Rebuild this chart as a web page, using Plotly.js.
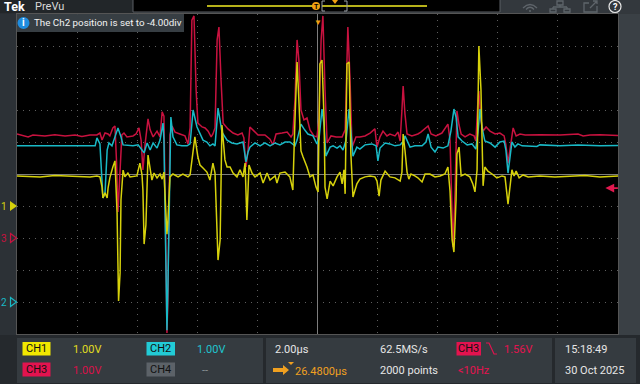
<!DOCTYPE html>
<html><head><meta charset="utf-8">
<script src="https://cdn.plot.ly/plotly-3.0.1.min.js"></script>
<style>html,body{margin:0;padding:0;background:#2b3034;}#plot{width:640px;height:384px;}</style>
</head><body><div id="plot"></div>
<script>
// ---- Channel settings ----
const ch1_scale = 1.0, ch1_pos = -1;   // V/div, divisions
const ch2_scale = 1.0, ch2_pos = -4;
const ch3_scale = 1.0, ch3_pos = -2;
const trig_level = 1.56;               // CH3, V

// ---- CH1 (yellow) time (us, relative to trigger) and volts ----
const ch1_t = [-10.0,-9.23,-8.74,-8.07,-7.57,-7.34,-7.24,-7.17,-7.14,-7.07,-7.00,-6.97,-6.91,-6.81,-6.74,-6.67,-6.62,-6.57,-6.54,-6.47,-6.41,-6.31,-6.24,-6.01,-5.91,-5.84,-5.81,-5.77,-5.71,-5.64,-5.57,-5.51,-5.44,-5.34,-5.24,-5.17,-5.11,-5.07,-5.01,-4.98,-4.91,-4.81,-4.64,-4.48,-4.31,-4.24,-4.14,-4.08,-3.98,-3.91,-3.81,-3.68,-3.58,-3.48,-3.41,-3.31,-3.24,-3.18,-3.08,-3.01,-2.91,-2.81,-2.68,-2.58,-2.48,-2.41,-2.35,-2.28,-2.18,-2.08,-1.91,-1.81,-1.68,-1.58,-1.41,-1.35,-1.25,-1.08,-0.92,-0.82,-0.75,-0.68,-0.62,-0.55,-0.48,-0.35,-0.25,-0.15,-0.05,0.02,0.08,0.15,0.22,0.25,0.32,0.42,0.52,0.65,0.75,0.82,0.88,0.92,0.98,1.05,1.11,1.18,1.31,1.41,1.58,1.75,1.91,1.98,2.05,2.11,2.25,2.41,2.58,2.75,2.81,2.85,2.91,2.98,3.04,3.11,3.24,3.34,3.48,3.58,3.74,3.91,4.08,4.24,4.34,4.41,4.48,4.54,4.61,4.64,4.71,4.78,4.91,5.07,5.17,5.24,5.31,5.37,5.44,5.51,5.57,5.67,5.81,5.97,6.14,6.24,6.34,6.41,6.47,6.54,6.61,6.71,6.84,7.01,7.40,7.90,8.40,8.90,9.40,10.0];
const ch1_v = [0.94,0.91,0.95,0.94,0.91,0.94,0.91,0.59,0.25,0.41,0.25,0.56,0.88,1.22,1.41,-0.22,-2.97,-2.09,0.19,1.12,0.91,1.03,0.91,0.94,1.34,0.97,0.50,-1.19,-0.59,1.59,1.22,0.81,1.03,0.88,1.00,0.84,1.06,0.28,-0.88,-0.50,0.91,1.00,0.91,1.00,0.91,0.97,1.75,2.16,1.53,1.28,1.19,1.06,0.81,1.34,1.03,-1.69,-1.06,2.53,1.44,1.22,1.22,1.03,0.91,1.13,0.91,1.34,-0.44,1.28,1.03,0.91,1.03,0.72,1.03,0.81,0.94,0.72,1.03,1.06,0.91,0.50,2.69,4.50,3.31,1.72,1.53,1.22,0.91,0.97,0.59,0.44,4.44,4.56,2.69,0.59,0.22,0.78,0.63,0.91,1.06,0.69,1.13,0.38,4.44,4.50,1.63,0.28,0.69,0.84,0.91,0.94,0.91,0.78,0.31,0.81,1.09,0.91,0.88,0.78,1.06,2.25,1.75,1.06,0.84,1.00,0.94,0.88,0.75,1.00,1.00,0.91,0.94,1.00,1.22,0.47,-1.06,-1.44,0.19,1.63,1.84,0.94,1.00,0.91,0.69,0.44,1.13,5.00,3.63,0.63,1.22,1.09,1.00,0.88,0.94,0.91,0.06,0.56,1.13,0.94,1.09,0.88,0.97,0.91,0.94,0.91,0.94,0.95,0.91,0.94];

// ---- CH2 (cyan) ----
const ch2_t = [-10.0,-8.90,-7.90,-7.40,-7.34,-7.24,-7.17,-7.14,-7.07,-7.00,-6.94,-6.84,-6.74,-6.64,-6.54,-6.47,-6.14,-5.97,-5.84,-5.77,-5.67,-5.57,-5.47,-5.34,-5.24,-5.14,-5.11,-5.04,-5.01,-4.98,-4.91,-4.88,-4.81,-4.68,-4.51,-4.34,-4.24,-4.14,-4.01,-3.91,-3.81,-3.68,-3.58,-3.48,-3.41,-3.31,-3.24,-3.18,-3.01,-2.85,-2.68,-2.48,-2.38,-2.31,-2.25,-2.08,-1.91,-1.75,-1.58,-1.41,-1.25,-1.08,-0.92,-0.75,-0.68,-0.55,-0.45,-0.32,-0.15,-0.02,0.05,0.15,0.22,0.28,0.42,0.52,0.65,0.75,0.85,0.95,1.05,1.11,1.18,1.31,1.41,1.58,1.81,1.95,2.01,2.08,2.25,2.41,2.58,2.75,2.85,2.91,2.98,3.08,3.24,3.48,3.61,3.68,3.78,3.91,4.01,4.18,4.34,4.44,4.54,4.61,4.68,4.81,4.98,5.14,5.27,5.34,5.41,5.47,5.57,5.74,5.91,6.07,6.21,6.27,6.34,6.41,6.47,6.57,6.67,6.81,7.30,7.40,8.07,8.67,9.40,10.0];
const ch2_v = [4.88,4.89,4.88,4.88,5.13,4.94,3.81,3.25,3.41,4.75,4.97,4.88,5.16,5.44,5.16,4.91,4.88,4.91,4.75,4.66,4.97,4.75,4.97,4.81,5.06,5.59,5.06,1.31,-0.88,0.38,4.75,5.78,5.16,4.91,4.88,4.88,4.94,6.00,5.47,5.25,5.06,5.00,4.88,4.94,4.88,6.06,5.63,5.31,5.06,4.97,4.94,5.00,4.38,4.69,4.84,4.97,4.88,4.97,4.88,4.97,4.91,5.00,5.00,4.88,5.06,5.56,5.41,5.25,5.19,4.94,5.09,6.03,5.53,4.56,4.84,4.88,4.81,4.88,4.75,5.06,6.03,5.38,4.56,4.84,4.78,4.91,4.94,4.88,4.41,4.81,4.97,4.94,4.88,4.91,5.00,5.19,5.03,4.84,4.88,4.88,5.00,5.25,4.84,4.69,4.84,4.81,4.88,5.34,6.03,5.78,5.16,5.03,4.91,4.94,4.78,5.31,6.03,5.47,5.03,4.97,4.84,5.00,5.03,4.75,4.03,4.53,5.00,4.84,4.94,4.88,4.86,4.91,4.88,4.91,4.88,4.89];

// ---- CH3 (red) ----
const ch3_t = [-10.0,-9.63,-9.47,-9.07,-8.74,-8.40,-8.07,-7.84,-7.57,-7.34,-7.24,-7.17,-7.07,-6.97,-6.91,-6.81,-6.74,-6.69,-6.64,-6.57,-6.51,-6.44,-6.34,-6.14,-6.04,-5.94,-5.87,-5.81,-5.74,-5.64,-5.57,-5.47,-5.34,-5.24,-5.17,-5.11,-5.04,-5.01,-4.98,-4.91,-4.84,-4.74,-4.58,-4.41,-4.31,-4.24,-4.18,-4.11,-4.04,-3.98,-3.84,-3.74,-3.64,-3.54,-3.48,-3.41,-3.34,-3.28,-3.21,-3.14,-2.98,-2.81,-2.65,-2.51,-2.45,-2.38,-2.31,-2.25,-2.11,-1.98,-1.75,-1.58,-1.48,-1.38,-1.18,-1.01,-0.88,-0.82,-0.75,-0.68,-0.62,-0.55,-0.45,-0.35,-0.25,-0.12,-0.02,0.05,0.12,0.18,0.25,0.32,0.45,0.62,0.82,0.92,1.01,1.08,1.15,1.28,1.41,1.58,1.75,1.91,1.98,2.08,2.18,2.31,2.41,2.58,2.68,2.75,2.81,2.85,2.91,2.98,3.14,3.34,3.44,3.68,3.78,3.94,4.14,4.34,4.41,4.48,4.51,4.58,4.64,4.71,4.78,4.91,5.07,5.21,5.27,5.34,5.37,5.44,5.51,5.61,5.74,5.91,6.07,6.21,6.27,6.34,6.41,6.51,6.61,6.74,6.91,7.40,8.07,8.67,8.84,9.07,9.40,10.0];
const ch3_v = [3.25,3.16,3.22,3.19,3.23,3.19,3.22,3.17,3.22,3.22,3.28,3.06,3.28,3.25,3.19,3.44,3.50,2.44,0.81,1.97,3.22,3.28,3.16,3.19,3.25,3.44,3.06,2.13,2.91,3.72,3.38,3.16,3.34,3.16,3.94,3.81,-0.69,-2.97,-1.94,3.22,3.50,3.31,3.25,3.19,2.94,3.44,6.81,6.94,4.63,3.59,3.47,3.44,3.34,3.16,3.25,3.44,6.19,6.59,4.94,3.59,3.41,3.28,3.22,3.28,3.13,2.22,2.75,3.47,3.34,3.22,3.22,3.09,2.91,3.25,3.28,3.31,3.16,3.25,4.31,6.19,5.56,4.00,3.69,3.75,3.38,3.19,3.16,3.69,6.19,6.94,4.63,2.97,3.19,3.16,3.16,3.38,6.59,5.03,2.84,3.16,3.16,3.19,3.28,3.41,2.84,3.16,3.34,3.19,3.25,3.19,3.31,3.03,4.00,4.75,3.88,3.25,3.19,3.25,3.31,3.50,3.25,3.19,3.28,3.56,3.06,0.25,-0.28,1.50,3.97,3.53,3.25,3.16,3.25,3.19,3.03,4.31,4.59,3.69,3.34,3.47,3.34,3.25,3.28,3.19,2.91,2.34,2.81,3.44,3.19,3.25,3.22,3.23,3.22,3.25,3.19,3.22,3.23,3.20];

// ---- readouts ----
const ch_labels = ["CH1","CH2","CH3","CH4"];
const ch_scales_txt = ["1.00V","1.00V","1.00V","--"];
const horiz_scale_txt = "2.00µs", delay_txt = "26.4800µs";
const sample_rate_txt = "62.5MS/s", record_txt = "2000 points";
const trig_txt = "1.56V", freq_txt = "<10Hz";
const time_txt = "15:18:49", date_txt = "30 Oct 2025";
const msg_txt = "The Ch2 position is set to -4.00div";

// ---- helpers (pixel -> paper) ----
const L=17,R=618,T=14,B=334;
const X = p => (p-L)/(R-L);
const Y = p => (B-p)/(B-T);
const P = (x,y) => X(x)+','+Y(y);

const toDiv = (v,s,pos) => v.map(a => a/s + pos);

const YEL='#d6d10b', CYN='#19b9c6', RED='#c8123f';
const traces = [
  {x:ch3_t, y:toDiv(ch3_v,ch3_scale,ch3_pos), mode:'lines', line:{color:RED,width:1.5}, hoverinfo:'skip'},
  {x:ch2_t, y:toDiv(ch2_v,ch2_scale,ch2_pos), mode:'lines', line:{color:CYN,width:1.5}, hoverinfo:'skip'},
  {x:ch1_t, y:toDiv(ch1_v,ch1_scale,ch1_pos), mode:'lines', line:{color:YEL,width:1.5}, hoverinfo:'skip'}
];

const shapes = [];
const ann = [];
function rectPx(x0,y0,x1,y1,fill,line,layer){shapes.push({type:'rect',xref:'paper',yref:'paper',x0:X(x0),x1:X(x1),y0:Y(y1),y1:Y(y0),fillcolor:fill,line:line||{width:0},layer:layer||'below'});}
function txt(x,y,s,color,size,anchor,bold,extra){ann.push(Object.assign({xref:'paper',yref:'paper',x:X(x),y:Y(y),text:bold?'<b>'+s+'</b>':s,showarrow:false,xanchor:anchor||'left',yanchor:'middle',font:{family:'Roboto, Noto Sans, sans-serif',size:size,color:color}},extra||{}));}
function pathPx(d,fill,line,layer){shapes.push({type:'path',xref:'paper',yref:'paper',path:d,fillcolor:fill,line:line||{width:0},layer:layer||'above'});}

// top bar
rectPx(0,0,640,13.5,'#222629');
rectPx(500,0,640,13.5,'#33383d');
rectPx(133,-1,500,12,'#000000',{color:'#5a5f64',width:1});
// right strip & left strip
rectPx(618.5,13.5,640,336,'#3a4045');
rectPx(0,13.5,16.5,336,'#2c3136');
// bottom panel
rectPx(0,335,640,384,'#25292d');
rectPx(17,338,263,383,'#353b40');
rectPx(266,338,552,383,'#353b40');
rectPx(555,338,636,383,'#353b40');

// overview waveform strip
pathPx('M'+P(207,6)+' L'+P(316,6),null,{color:'#b7b21a',width:2});
pathPx('M'+P(322,6)+' L'+P(427,6),null,{color:'#b7b21a',width:2});
pathPx('M'+P(325,1)+' L'+P(322,1)+' L'+P(322,11)+' L'+P(325,11)+' M'+P(344,1)+' L'+P(347,1)+' L'+P(347,11)+' L'+P(344,11),null,{color:'#9aa0a6',width:1});
shapes.push({type:'circle',xref:'paper',yref:'paper',x0:X(312),x1:X(320),y0:Y(10),y1:Y(2),fillcolor:'#f0a010',line:{width:0},layer:'above'});
txt(316,6.5,'T','#000',7,'center',true);
pathPx('M'+P(332,0)+' L'+P(338,0)+' L'+P(335,4)+' Z','#f0a010');
// Tek / PreVu
txt(2,7,'Tek','#ffffff',12.5,'left',true);
txt(33,7,'PreVu','#d8d8d8',11,'left');
// icons top right
const ic={color:'#5f656b',width:1.3};
pathPx('M'+P(523,8)+' Q'+P(530,1)+' '+P(537,8)+' M'+P(526,9.5)+' Q'+P(530,5)+' '+P(534,9.5)+' M'+P(529,11)+' L'+P(531,11),null,ic);
pathPx('M'+P(557,1)+' L'+P(563,1)+' L'+P(563,5)+' L'+P(557,5)+' Z M'+P(560,5)+' L'+P(560,7)+' M'+P(553,7)+' L'+P(567,7)+' M'+P(553,7)+' L'+P(553,9)+' M'+P(567,7)+' L'+P(567,9)+' M'+P(550,9)+' L'+P(556,9)+' L'+P(556,12)+' L'+P(550,12)+' Z M'+P(564,9)+' L'+P(570,9)+' L'+P(570,12)+' L'+P(564,12)+' Z',null,ic);
pathPx('M'+P(589,3)+' L'+P(584,3)+' L'+P(584,12)+' L'+P(597,12)+' L'+P(597,6)+' M'+P(590,8)+' L'+P(597,1)+' M'+P(593,1)+' L'+P(597,1)+' L'+P(597,4),null,ic);
shapes.push({type:'circle',xref:'paper',yref:'paper',x0:X(609),x1:X(621),y0:Y(12.5),y1:Y(0.5),line:{color:'#e8e8e8',width:1.2},layer:'above'});
txt(615,6.8,'?','#ffffff',9,'center',true);

// info tooltip
rectPx(17,14,184,32,'rgba(58,65,71,0.95)',{width:0},'above');
shapes.push({type:'circle',xref:'paper',yref:'paper',x0:X(17.5),x1:X(29.5),y0:Y(29),y1:Y(17),fillcolor:'#1f8de0',line:{width:0},layer:'above'});
txt(23.5,23,'i','#ffffff',10,'center',true);
txt(31.5,23,msg_txt,'#f2f2f2',9.8,'left');

// left channel markers
txt(9,206,'1',YEL,10,'right');
pathPx('M'+P(10,201)+' L'+P(17,206)+' L'+P(10,211)+' Z',YEL);
txt(9,238,'3',RED,10,'right');
pathPx('M'+P(10.5,233.5)+' L'+P(16.5,238)+' L'+P(10.5,242.5)+' Z',null,{color:RED,width:1.2});
txt(9,302,'2',CYN,10,'right');
pathPx('M'+P(10.5,297.5)+' L'+P(16.5,302)+' L'+P(10.5,306.5)+' Z',null,{color:CYN,width:1.2});

// trigger level arrow (right edge) and trigger position marker (top)
const trigDiv = trig_level/ch3_scale + ch3_pos;
ann.push({xref:'paper',yref:'y',x:0.979,y:trigDiv,ax:14,ay:0,showarrow:true,arrowhead:2,arrowsize:1.1,arrowwidth:1.6,arrowcolor:'#e0194f',text:''});
ann.push({xref:'x',yref:'paper',x:0,y:1.0,text:'▼',showarrow:false,yanchor:'top',xanchor:'center',font:{size:8,color:'#f0a010'}});

// bottom readouts
function badge(x0,y0,x1,y1,fill,label){rectPx(x0,y0,x1,y1,fill,{width:0},'below');txt((x0+x1)/2,(y0+y1)/2,label,'#111111',11,'center');}
badge(22.5,342,50.5,355.5,'#f2e800',ch_labels[0]);
badge(146.5,342,175,355.5,'#22cbd6',ch_labels[1]);
badge(22.5,362.5,50.5,376.5,'#e3134f',ch_labels[2]);
badge(146.5,362.5,175,376.5,'#5c6268',ch_labels[3]);
txt(71,349,ch_scales_txt[0],'#e0dc20',11);
txt(195,349,ch_scales_txt[1],'#20c4cf',11);
txt(71,370,ch_scales_txt[2],'#d8124a',11);
txt(200,370,ch_scales_txt[3],'#8a9096',11);
txt(273,349,horiz_scale_txt,'#e6e6e6',11);
pathPx('M'+P(273,368)+' L'+P(283,368)+' L'+P(283,365)+' L'+P(289,370)+' L'+P(283,375)+' L'+P(283,372)+' L'+P(273,372)+' Z','#f0a020');
pathPx('M'+P(288,362)+' L'+P(294,362)+' L'+P(291,365)+' Z','#f0a020');
txt(292.5,371,delay_txt,'#f0a020',11);
txt(378,349,sample_rate_txt,'#e6e6e6',11);
txt(378,370,record_txt,'#e6e6e6',11);
badge(456.5,342,481,355.5,'#e3134f',ch_labels[2]);
pathPx('M'+P(486,343)+' L'+P(489,343)+' L'+P(494,354)+' L'+P(497,354),null,{color:'#e3134f',width:1.2});
txt(502,349,trig_txt,'#e3134f',11);
txt(456,370,freq_txt,'#e3134f',11);
txt(563,349,time_txt,'#e6e6e6',11);
txt(563,370,date_txt,'#e6e6e6',11);

const layout = {
  width:640, height:384,
  margin:{l:L,r:640-R,t:T,b:384-B,pad:0},
  paper_bgcolor:'#2b3034', plot_bgcolor:'#000000',
  showlegend:false,
  xaxis:{range:[-10,10],dtick:2,tick0:0,showticklabels:false,ticks:'',
         showgrid:true,gridcolor:'#5e5e5e',griddash:'1px,5px',gridwidth:1,
         zeroline:true,zerolinecolor:'#7d7d7d',zerolinewidth:1,
         showline:true,linecolor:'#555',mirror:true,fixedrange:true},
  yaxis:{range:[-5,5],dtick:1,tick0:0,showticklabels:false,ticks:'',
         showgrid:true,gridcolor:'#5e5e5e',griddash:'1px,5px',gridwidth:1,
         zeroline:true,zerolinecolor:'#7d7d7d',zerolinewidth:1,
         showline:true,linecolor:'#555',mirror:true,fixedrange:true},
  shapes:shapes, annotations:ann
};
Plotly.newPlot('plot', traces, layout, {displayModeBar:false, staticPlot:true});
</script></body></html>
